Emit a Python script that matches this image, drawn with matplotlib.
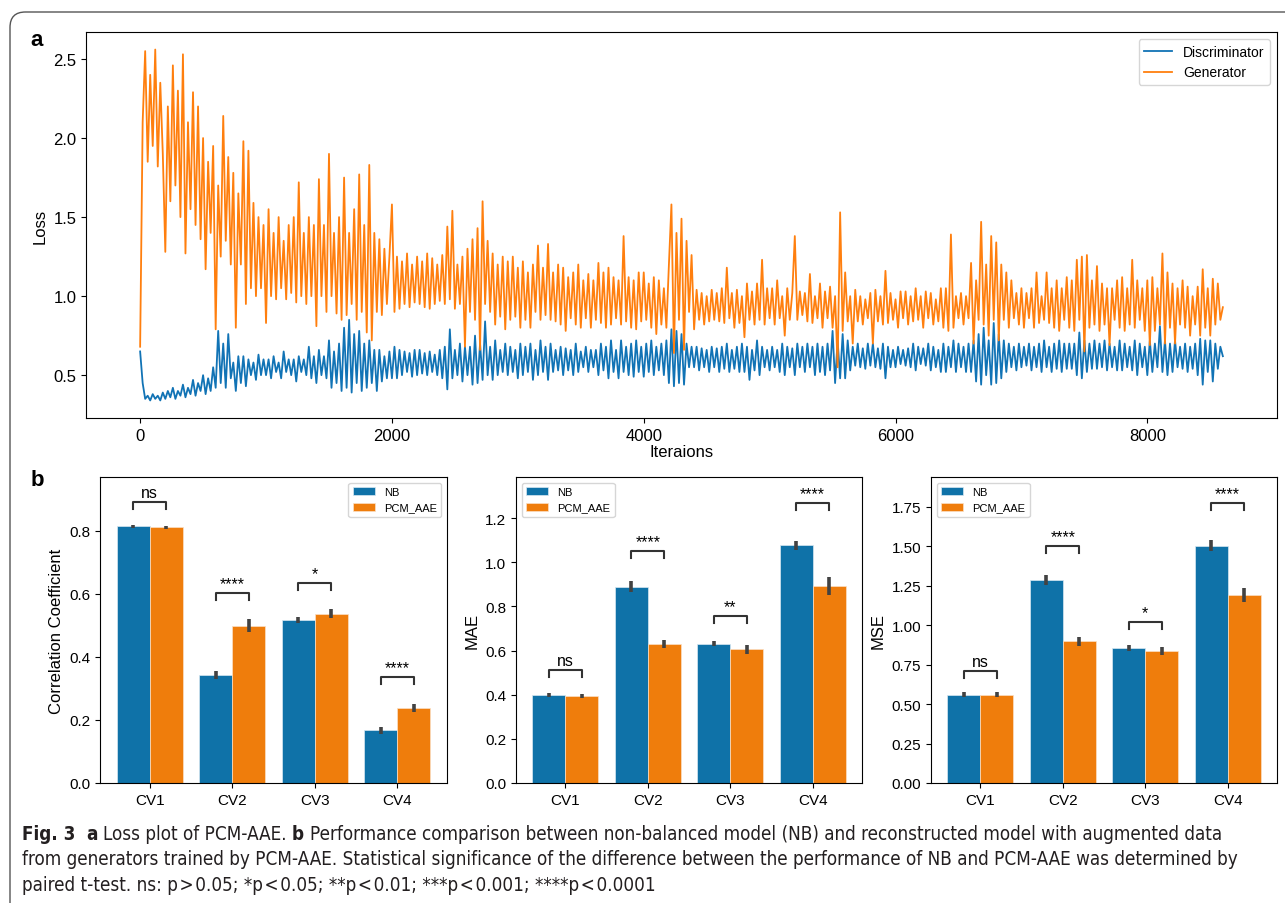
import numpy as np
import matplotlib
matplotlib.use('Agg')
import matplotlib.pyplot as plt
from matplotlib.patches import FancyBboxPatch
from matplotlib import font_manager as fm

plt.rcParams['font.family'] = ['Liberation Sans', 'DejaVu Sans']

# --- panel a: loss values read every 20 iterations (one row = 200 iterations) ---
step = 20
gen_loss = [
    0.68, 2.10, 2.55, 1.85, 2.40, 1.95, 2.56, 1.82, 2.35, 1.90,
    1.28, 2.20, 1.60, 2.46, 1.70, 2.30, 1.50, 2.53, 1.27, 2.10,
    1.55, 2.29, 1.45, 2.20, 1.36, 2.00, 1.17, 1.85, 1.40, 1.95,
    0.79, 1.70, 1.25, 2.14, 1.35, 1.88, 1.20, 1.78, 0.80, 1.65,
    1.20, 1.98, 0.95, 1.92, 1.05, 1.59, 1.00, 1.50, 1.05, 1.45,
    0.83, 1.55, 1.00, 1.40, 0.98, 1.50, 1.05, 1.35, 0.98, 1.45,
    1.02, 1.50, 0.96, 1.72, 1.00, 1.40, 0.95, 1.50, 1.00, 1.45,
    0.81, 1.74, 1.00, 1.45, 0.90, 1.90, 1.00, 1.40, 0.89, 1.50,
    0.85, 1.75, 0.88, 1.40, 0.95, 1.55, 0.85, 1.77, 0.90, 1.45,
    0.77, 1.83, 0.72, 1.40, 0.90, 1.36, 0.88, 1.30, 0.95, 1.25,
    1.58, 0.90, 1.25, 0.92, 1.22, 0.95, 1.27, 0.93, 1.20, 0.96,
    1.25, 0.95, 1.22, 0.93, 1.27, 0.92, 1.24, 0.95, 1.20, 0.97,
    1.26, 0.95, 1.44, 0.98, 1.54, 0.92, 1.20, 0.95, 1.25, 0.68,
    1.30, 0.90, 1.36, 0.85, 1.43, 0.66, 1.60, 0.95, 1.35, 0.90,
    1.27, 0.82, 1.20, 0.87, 1.25, 0.79, 1.22, 0.85, 1.25, 0.87,
    1.18, 0.80, 1.22, 0.85, 1.15, 0.80, 1.20, 0.90, 1.32, 0.85,
    1.18, 0.88, 1.33, 0.85, 1.15, 0.84, 1.20, 0.82, 1.18, 0.78,
    1.12, 0.86, 1.15, 0.82, 1.20, 0.80, 1.10, 0.86, 1.14, 0.80,
    1.10, 0.85, 1.21, 0.83, 1.15, 0.80, 1.18, 0.82, 1.12, 0.86,
    1.10, 0.82, 1.38, 0.84, 1.12, 0.80, 1.10, 0.79, 1.15, 0.84,
    1.15, 0.85, 1.08, 0.80, 1.12, 0.76, 1.10, 0.82, 1.05, 0.80,
    1.20, 1.58, 0.64, 1.40, 0.85, 1.49, 0.66, 1.35, 0.90, 1.26,
    0.79, 1.04, 0.85, 1.02, 0.82, 1.00, 0.84, 1.04, 0.85, 1.02,
    0.84, 1.05, 0.83, 1.18, 0.86, 1.02, 0.80, 1.04, 0.83, 1.00,
    0.74, 1.08, 0.85, 1.03, 0.82, 1.08, 0.85, 1.23, 0.82, 1.05,
    0.86, 1.05, 0.82, 1.10, 0.86, 1.00, 0.75, 1.05, 0.85, 1.02,
    1.38, 0.85, 1.03, 0.88, 1.02, 0.84, 1.14, 0.83, 1.00, 0.86,
    1.08, 0.80, 1.03, 0.86, 1.06, 0.80, 1.00, 0.55, 1.53, 0.78,
    1.15, 0.84, 1.00, 0.70, 1.04, 0.84, 1.00, 0.82, 0.98, 0.86,
    1.02, 0.70, 1.04, 0.84, 1.00, 0.82, 1.16, 0.83, 1.02, 0.85,
    0.98, 0.80, 1.03, 0.86, 1.03, 0.82, 1.00, 0.84, 1.05, 0.85,
    1.00, 0.80, 1.03, 0.86, 1.02, 0.82, 0.98, 0.84, 1.05, 0.80,
    1.05, 0.78, 1.39, 0.80, 1.00, 0.86, 1.02, 0.82, 1.00, 0.86,
    1.21, 0.70, 1.10, 0.85, 1.47, 0.82, 1.20, 0.75, 1.38, 0.85,
    1.34, 0.72, 1.20, 0.85, 1.15, 0.80, 1.10, 0.86, 1.02, 0.82,
    1.05, 0.80, 1.02, 0.86, 1.05, 0.80, 1.15, 0.83, 1.00, 0.85,
    1.15, 0.83, 1.05, 0.80, 1.10, 0.78, 1.05, 0.85, 1.12, 0.80,
    1.10, 0.78, 1.23, 0.85, 1.25, 0.65, 1.26, 0.80, 1.10, 0.82,
    1.19, 0.78, 1.08, 0.82, 1.05, 0.69, 1.05, 0.85, 1.10, 0.80,
    1.12, 0.78, 1.05, 0.82, 1.23, 0.80, 1.10, 0.85, 1.05, 0.78,
    1.10, 0.69, 1.12, 0.78, 1.05, 0.82, 1.27, 0.70, 1.15, 0.80,
    1.08, 0.70, 1.05, 0.82, 1.10, 0.80, 1.06, 0.75, 1.00, 0.82,
    1.06, 0.75, 1.17, 0.80, 1.05, 0.75, 1.11, 0.82, 1.08, 0.85,
    0.93]
disc_loss = [
    0.65, 0.45, 0.35, 0.37, 0.34, 0.38, 0.35, 0.37, 0.34, 0.39,
    0.35, 0.40, 0.36, 0.42, 0.35, 0.40, 0.37, 0.44, 0.36, 0.42,
    0.38, 0.47, 0.37, 0.45, 0.40, 0.50, 0.38, 0.48, 0.40, 0.55,
    0.42, 0.78, 0.45, 0.70, 0.42, 0.76, 0.48, 0.58, 0.40, 0.62,
    0.45, 0.62, 0.43, 0.60, 0.50, 0.58, 0.47, 0.63, 0.50, 0.60,
    0.50, 0.60, 0.48, 0.62, 0.52, 0.58, 0.48, 0.65, 0.52, 0.60,
    0.50, 0.60, 0.46, 0.62, 0.52, 0.60, 0.50, 0.68, 0.48, 0.62,
    0.45, 0.66, 0.50, 0.62, 0.48, 0.72, 0.42, 0.65, 0.45, 0.70,
    0.40, 0.80, 0.42, 0.85, 0.39, 0.76, 0.45, 0.78, 0.40, 0.70,
    0.42, 0.72, 0.45, 0.66, 0.40, 0.66, 0.46, 0.62, 0.48, 0.65,
    0.48, 0.68, 0.48, 0.66, 0.50, 0.65, 0.52, 0.64, 0.49, 0.66,
    0.50, 0.66, 0.51, 0.64, 0.50, 0.65, 0.52, 0.63, 0.50, 0.66,
    0.48, 0.68, 0.41, 0.79, 0.48, 0.66, 0.50, 0.70, 0.46, 0.68,
    0.50, 0.68, 0.44, 0.75, 0.45, 0.70, 0.47, 0.84, 0.50, 0.68,
    0.47, 0.72, 0.50, 0.66, 0.52, 0.70, 0.50, 0.68, 0.52, 0.66,
    0.48, 0.70, 0.50, 0.68, 0.52, 0.70, 0.47, 0.66, 0.50, 0.72,
    0.52, 0.68, 0.47, 0.70, 0.52, 0.66, 0.53, 0.68, 0.50, 0.67,
    0.53, 0.66, 0.50, 0.70, 0.52, 0.65, 0.55, 0.68, 0.52, 0.66,
    0.55, 0.66, 0.50, 0.70, 0.53, 0.68, 0.48, 0.72, 0.52, 0.66,
    0.48, 0.72, 0.52, 0.68, 0.50, 0.70, 0.49, 0.72, 0.52, 0.68,
    0.49, 0.70, 0.52, 0.72, 0.50, 0.68, 0.53, 0.70, 0.50, 0.72,
    0.45, 0.79, 0.43, 0.78, 0.45, 0.76, 0.44, 0.70, 0.55, 0.68,
    0.55, 0.68, 0.53, 0.67, 0.55, 0.66, 0.52, 0.68, 0.55, 0.67,
    0.52, 0.68, 0.54, 0.70, 0.52, 0.66, 0.54, 0.68, 0.52, 0.70,
    0.52, 0.68, 0.47, 0.66, 0.53, 0.72, 0.50, 0.68, 0.55, 0.66,
    0.53, 0.68, 0.55, 0.66, 0.52, 0.70, 0.50, 0.68, 0.55, 0.67,
    0.50, 0.70, 0.55, 0.68, 0.52, 0.70, 0.55, 0.68, 0.50, 0.70,
    0.52, 0.68, 0.50, 0.70, 0.53, 0.78, 0.45, 0.72, 0.48, 0.76,
    0.48, 0.72, 0.53, 0.68, 0.56, 0.70, 0.55, 0.67, 0.54, 0.70,
    0.56, 0.70, 0.55, 0.67, 0.54, 0.70, 0.48, 0.68, 0.55, 0.66,
    0.55, 0.68, 0.57, 0.66, 0.56, 0.67, 0.55, 0.70, 0.53, 0.68,
    0.57, 0.67, 0.56, 0.70, 0.53, 0.68, 0.55, 0.66, 0.52, 0.70,
    0.52, 0.68, 0.55, 0.72, 0.52, 0.70, 0.55, 0.68, 0.52, 0.70,
    0.52, 0.72, 0.46, 0.76, 0.44, 0.80, 0.50, 0.72, 0.44, 0.83,
    0.45, 0.76, 0.48, 0.72, 0.52, 0.70, 0.55, 0.68, 0.53, 0.70,
    0.55, 0.68, 0.56, 0.70, 0.53, 0.68, 0.55, 0.70, 0.52, 0.72,
    0.55, 0.68, 0.52, 0.70, 0.54, 0.72, 0.52, 0.70, 0.54, 0.70,
    0.54, 0.70, 0.50, 0.77, 0.48, 0.72, 0.52, 0.70, 0.54, 0.72,
    0.54, 0.70, 0.55, 0.72, 0.53, 0.70, 0.55, 0.68, 0.53, 0.72,
    0.53, 0.70, 0.55, 0.68, 0.53, 0.72, 0.50, 0.70, 0.55, 0.68,
    0.50, 0.72, 0.52, 0.70, 0.55, 0.81, 0.52, 0.72, 0.50, 0.70,
    0.52, 0.72, 0.55, 0.68, 0.54, 0.70, 0.52, 0.68, 0.54, 0.70,
    0.50, 0.73, 0.44, 0.72, 0.52, 0.72, 0.46, 0.70, 0.54, 0.68,
    0.62]
iters = np.arange(len(gen_loss)) * step

# --- panel b: bar values (mean, error) ---
cv = ['CV1', 'CV2', 'CV3', 'CV4']
corr_nb = [0.814, 0.343, 0.518, 0.168]
corr_nb_err = [0.006, 0.013, 0.009, 0.011]
corr_pcm = [0.811, 0.499, 0.537, 0.238]
corr_pcm_err = [0.006, 0.021, 0.014, 0.014]
corr_sig = ['ns', '****', '*', '****']
corr_br = [0.892, 0.603, 0.635, 0.336]

mae_nb = [0.399, 0.890, 0.630, 1.076]
mae_nb_err = [0.010, 0.026, 0.011, 0.019]
mae_pcm = [0.394, 0.630, 0.605, 0.894]
mae_pcm_err = [0.011, 0.017, 0.020, 0.041]
mae_sig = ['ns', '****', '**', '****']
mae_br = [0.512, 1.05, 0.756, 1.268]

mse_nb = [0.560, 1.287, 0.856, 1.505]
mse_nb_err = [0.014, 0.034, 0.016, 0.036]
mse_pcm = [0.560, 0.898, 0.837, 1.192]
mse_pcm_err = [0.014, 0.030, 0.026, 0.044]
mse_sig = ['ns', '****', '*', '****']
mse_br = [0.71, 1.503, 1.02, 1.775]

W, H = 1285, 904
fig = plt.figure(figsize=(W / 100, H / 100), dpi=100)


def fx(px):
    return px / W


def fy(py):
    return 1 - py / H


# rounded frame around the figure
frame = FancyBboxPatch((fx(10), fy(930)), fx(1400), (930 - 13) / H,
                       boxstyle='round,pad=0,rounding_size=0.012',
                       mutation_aspect=W / H, transform=fig.transFigure,
                       fill=False, ec='#555555', lw=1.0, clip_on=False)
fig.add_artist(frame)

# --- panel a ---
ax_a = fig.add_axes([fx(86), fy(419), fx(1277) - fx(86), (419 - 33) / H])
ax_a.plot(iters, disc_loss, color='#1173b5', lw=1.3, label='Discriminator')
ax_a.plot(iters, gen_loss, color='#ff7f0e', lw=1.3, label='Generator')
ax_a.set_xticks([0, 2000, 4000, 6000, 8000])
ax_a.set_yticks([0.5, 1.0, 1.5, 2.0, 2.5])
ax_a.tick_params(labelsize=12)
ax_a.set_xlabel('Iteraions', fontsize=12, labelpad=1)
ax_a.set_ylabel('Loss', fontsize=12)
ax_a.legend(loc='upper right', fontsize=10)

# --- panel b ---
c_nb = '#0f72a8'
c_pcm = '#ef7d0c'


def bar_panel(ax, nb, nb_err, pcm, pcm_err, sig, br_y, ylabel, ylim, yticks, loc):
    x = np.arange(len(cv))
    ax.bar(x - 0.2, nb, 0.4, color=c_nb, edgecolor='#d9e8f2', linewidth=0.5, label='NB')
    ax.bar(x + 0.2, pcm, 0.4, color=c_pcm, edgecolor='#fbe0c6', linewidth=0.5, label='PCM_AAE')
    ax.errorbar(x - 0.2, nb, yerr=nb_err, fmt='none', ecolor='#424242', elinewidth=2.6, capsize=0)
    ax.errorbar(x + 0.2, pcm, yerr=pcm_err, fmt='none', ecolor='#424242', elinewidth=2.6, capsize=0)
    ax.set_xlim(-0.6, 3.6)
    ax.set_ylim(0, ylim)
    ax.set_yticks(yticks)
    ax.set_xticks(x)
    ax.set_xticklabels(cv)
    ax.tick_params(labelsize=11)
    ax.set_ylabel(ylabel, fontsize=12)
    leg_h = ylim * 7 / 306
    pad = ylim * 2 / 306
    for xi, yb, s in zip(x, br_y, sig):
        ax.plot([xi - 0.2, xi - 0.2, xi + 0.2, xi + 0.2], [yb - leg_h, yb, yb, yb - leg_h],
                color='#333333', lw=1.5)
        ax.text(xi, yb + pad, s, ha='center', va='bottom', fontsize=11.5)
    ax.legend(loc=loc, fontsize=8)


bh = (784 - 478) / H
ax1 = fig.add_axes([fx(100), fy(784), 347 / W, bh])
ax2 = fig.add_axes([fx(516), fy(784), 346 / W, bh])
ax3 = fig.add_axes([fx(931), fy(784), 346 / W, bh])
bar_panel(ax1, corr_nb, corr_nb_err, corr_pcm, corr_pcm_err, corr_sig, corr_br,
          'Correlation Coefficient', 0.971, [0, 0.2, 0.4, 0.6, 0.8], 'upper right')
bar_panel(ax2, mae_nb, mae_nb_err, mae_pcm, mae_pcm_err, mae_sig, mae_br,
          'MAE', 1.386, [0, 0.2, 0.4, 0.6, 0.8, 1.0, 1.2], 'upper left')
bar_panel(ax3, mse_nb, mse_nb_err, mse_pcm, mse_pcm_err, mse_sig, mse_br,
          'MSE', 1.94, [0, 0.25, 0.5, 0.75, 1.0, 1.25, 1.5, 1.75], 'upper left')
ax1.yaxis.set_major_formatter(matplotlib.ticker.FormatStrFormatter('%.1f'))
ax2.yaxis.set_major_formatter(matplotlib.ticker.FormatStrFormatter('%.1f'))
ax3.yaxis.set_major_formatter(matplotlib.ticker.FormatStrFormatter('%.2f'))

# panel letters
fig.text(fx(37), fy(41), 'a', fontsize=16, fontweight='bold', ha='center', va='center')
fig.text(fx(37), fy(480), 'b', fontsize=16, fontweight='bold', ha='center', va='center')

# --- caption ---
avail = {f.name for f in fm.fontManager.ttflist}
if 'Liberation Sans Narrow' in avail:
    capfont = {'family': 'Liberation Sans Narrow'}
elif any(f.name == 'DejaVu Sans' and f.stretch == 'condensed' for f in fm.fontManager.ttflist):
    capfont = {'family': 'DejaVu Sans', 'fontstretch': 'condensed'}
else:
    capfont = {'family': 'Liberation Sans'}
cap_color = '#231f20'
renderer = fig.canvas.get_renderer()


def measure(s, fs, bold):
    t = fig.text(0, 0, s, fontsize=fs, fontweight='bold' if bold else 'normal', **capfont)
    w = t.get_window_extent(renderer).width
    t.remove()
    return w


hs = '\u200a'
line1 = [('Fig. 3', True, 2), ('a', True, 1), ('Loss plot of PCM-AAE.', False, 1), ('b', True, 1),
         ('Performance comparison between non-balanced model (NB) and reconstructed model with augmented data', False, 0)]
line2 = [('from generators trained by PCM-AAE. Statistical significance of the difference between the performance of NB and PCM-AAE was determined by', False, 0)]
line3 = [(f'paired t-test. ns: p{hs}>{hs}0.05; *p{hs}<{hs}0.05; **p{hs}<{hs}0.01; ***p{hs}<{hs}0.001; ****p{hs}<{hs}0.0001', False, 0)]


def line_width(parts, fs):
    sp = measure('a a', fs, False) - measure('aa', fs, False)
    return sum(measure(s, fs, b) + n * sp for s, b, n in parts)


def put_line(y, parts, fs):
    sp = measure('a a', fs, False) - measure('aa', fs, False)
    x = 22
    for s, b, n in parts:
        fig.text(fx(x), fy(y), s, fontsize=fs, fontweight='bold' if b else 'normal',
                 va='center', color=cap_color, **capfont)
        x += measure(s, fs, b) + n * sp


cap_fs = 12 * 1204 / line_width(line1, 12)
put_line(834, line1, cap_fs)
put_line(860, line2, cap_fs)
put_line(886, line3, cap_fs)

fig.savefig('out.png', dpi=100)
